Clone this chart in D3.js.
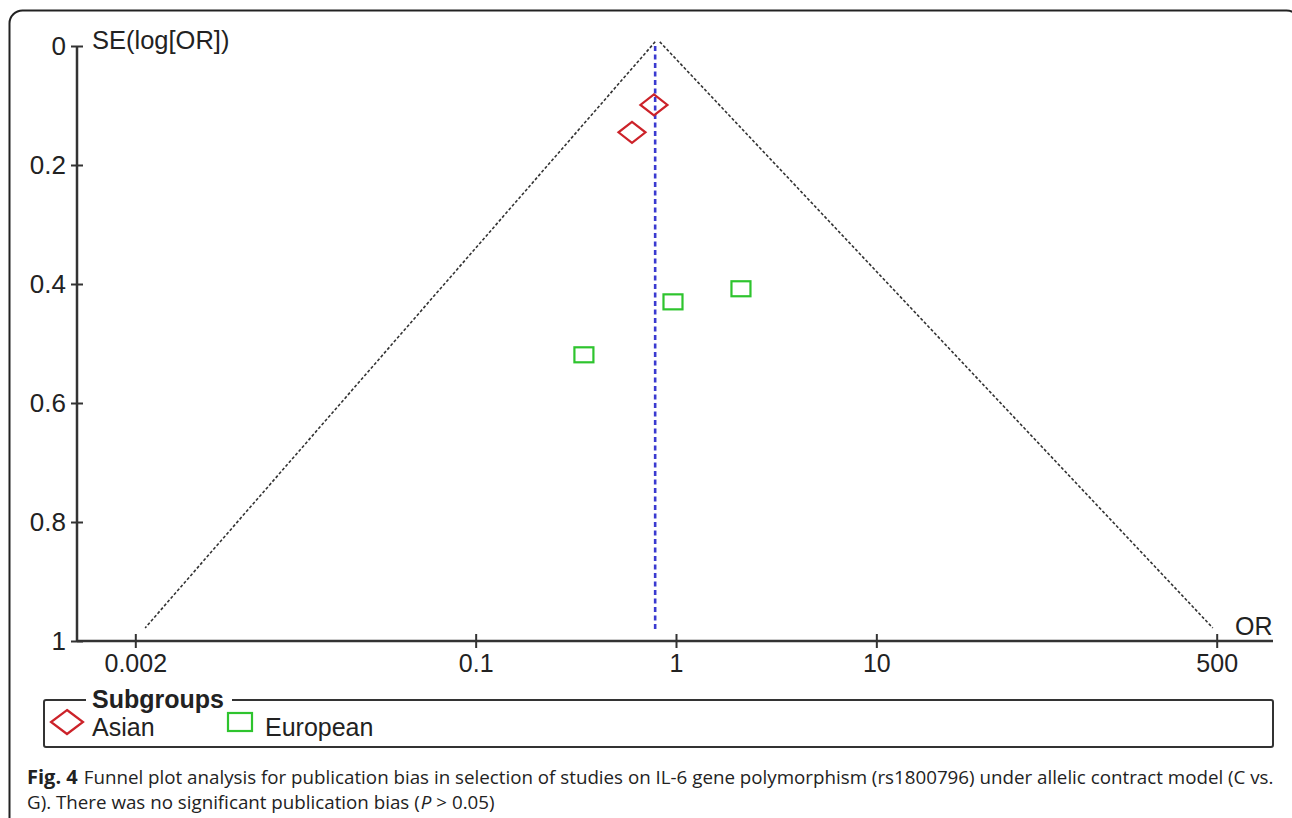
<html>
  <head>
    <title>Funnel plot</title>
    <style>
      body { margin: 0; background: #fff; }
      text { font-family: "Liberation Sans", Arial, sans-serif; fill: #222; }
    </style>
  </head>
  <body>
    <script type="text/javascript" src="https://d3js.org/d3.v7.min.js"></script>
    <script type="text/javascript">
// data
var asianOR = [0.776, 0.603];
var asianSE = [0.099, 0.145];
var europeanOR = [0.966, 2.11, 0.347];
var europeanSE = [0.430, 0.408, 0.519];
var pooledOR = 0.787;
var funnelLeftOR = [0.787, 0.00224];
var funnelRightOR = [0.83, 478];
var funnelSE = [-0.007, 0.978];
var xTicks = [0.002, 0.1, 1, 10, 500];
var yTicks = [0, 0.2, 0.4, 0.6, 0.8, 1];
var groups = ["Asian", "European"];

var w = 1292;
var h = 818;
var svg = d3.select("body")
            .append("svg")
            .attr("width", w)
            .attr("height", h);

// outer frame of the figure
svg.append("rect")
   .attr("x", 9.5).attr("y", 10.5)
   .attr("width", 1290).attr("height", 860)
   .attr("rx", 13)
   .attr("fill", "none")
   .attr("stroke", "#222")
   .attr("stroke-width", 2);

var scaleX = d3.scaleLog()
               .domain([0.001, 1000])
               .range([75, 1277]);
var scaleY = d3.scaleLinear()
               .domain([0, 1])
               .range([46, 641]);

// funnel
var funnel = [
  [[funnelLeftOR[0], funnelSE[0]], [funnelLeftOR[1], funnelSE[1]]],
  [[funnelRightOR[0], funnelSE[0]], [funnelRightOR[1], funnelSE[1]]]
];
var line = d3.line()
             .x(function(d){ return scaleX(d[0]); })
             .y(function(d){ return scaleY(d[1]); });
svg.selectAll(".funnel")
   .data(funnel)
   .enter()
   .append("path")
   .attr("class", "funnel")
   .attr("d", line)
   .attr("fill", "none")
   .attr("stroke", "#333")
   .attr("stroke-width", 1.6)
   .attr("stroke-dasharray", "3,2");

// pooled estimate
svg.append("line")
   .attr("x1", scaleX(pooledOR)).attr("x2", scaleX(pooledOR))
   .attr("y1", scaleY(0)).attr("y2", scaleY(0.985))
   .attr("stroke", "#3a3ad0")
   .attr("stroke-width", 2.6)
   .attr("stroke-dasharray", "5,3.5");

// axes
var xAxis = d3.axisBottom(scaleX)
              .tickValues(xTicks)
              .tickFormat(function(d){ return String(d); })
              .tickSize(7);
var gx = svg.append("g")
   .attr("transform", "translate(0," + scaleY(1) + ")")
   .call(xAxis);
gx.select(".domain").remove();
gx.append("line")
  .attr("x1", 77).attr("x2", 1273)
  .attr("stroke", "#333").attr("stroke-width", 2.5);
gx.selectAll(".tick line")
  .attr("y1", -7)
  .attr("stroke", "#333").attr("stroke-width", 2);
gx.selectAll(".tick text")
  .attr("y", 31).attr("dy", 0)
  .style("font-size", "25px")
  .style("font-family", "Liberation Sans, Arial, sans-serif")
  .attr("fill", "#222");

var yAxis = d3.axisLeft(scaleY)
              .tickValues(yTicks)
              .tickFormat(function(d){ return String(d); })
              .tickSize(6);
var gy = svg.append("g")
   .attr("transform", "translate(77,0)")
   .call(yAxis);
gy.select(".domain").remove();
gy.append("line")
  .attr("y1", scaleY(0)).attr("y2", scaleY(1))
  .attr("stroke", "#333").attr("stroke-width", 2.5);
gy.selectAll(".tick line")
  .attr("x2", 6).attr("x1", -6)
  .attr("stroke", "#333").attr("stroke-width", 2);
gy.selectAll(".tick text")
  .attr("x", -11)
  .style("font-size", "26px")
  .style("font-family", "Liberation Sans, Arial, sans-serif")
  .attr("fill", "#222");

svg.append("text")
   .attr("x", 92).attr("y", 49)
   .style("font-size", "25.5px")
   .text("SE(log[OR])");
svg.append("text")
   .attr("x", 1235).attr("y", 635)
   .style("font-size", "25px")
   .text("OR");

// study markers
function diamond(rx, ry) {
  return "M0," + (-ry) + "L" + rx + ",0L0," + ry + "L" + (-rx) + ",0Z";
}
var asian = asianOR.map(function(d, i){ return {or: d, se: asianSE[i]}; });
var european = europeanOR.map(function(d, i){ return {or: d, se: europeanSE[i]}; });

svg.selectAll(".asian")
   .data(asian)
   .enter()
   .append("path")
   .attr("class", "asian")
   .attr("d", diamond(13.5, 10.5))
   .attr("transform", function(d){ return "translate(" + scaleX(d.or) + "," + scaleY(d.se) + ")"; })
   .attr("fill", "none")
   .attr("stroke", "#cc2229")
   .attr("stroke-width", 2.2);

svg.selectAll(".european")
   .data(european)
   .enter()
   .append("rect")
   .attr("class", "european")
   .attr("x", function(d){ return scaleX(d.or) - 9.5; })
   .attr("y", function(d){ return scaleY(d.se) - 7.5; })
   .attr("width", 19).attr("height", 15)
   .attr("fill", "none")
   .attr("stroke", "#2ec42e")
   .attr("stroke-width", 2.2);

// legend
var lg = svg.append("g");
lg.append("rect")
  .attr("x", 44).attr("y", 700)
  .attr("width", 1229).attr("height", 47)
  .attr("rx", 2)
  .attr("fill", "none")
  .attr("stroke", "#333")
  .attr("stroke-width", 2);
lg.append("rect")
  .attr("x", 86).attr("y", 690)
  .attr("width", 146).attr("height", 20)
  .attr("fill", "#fff");
lg.append("text")
  .attr("x", 92).attr("y", 708)
  .style("font-size", "25px")
  .style("font-weight", "bold")
  .text("Subgroups");
lg.append("path")
  .attr("d", diamond(16, 12))
  .attr("transform", "translate(67,722)")
  .attr("fill", "none")
  .attr("stroke", "#cc2229")
  .attr("stroke-width", 2.2);
lg.append("rect")
  .attr("x", 228).attr("y", 713)
  .attr("width", 24).attr("height", 18)
  .attr("fill", "none")
  .attr("stroke", "#2ec42e")
  .attr("stroke-width", 2.2);
lg.append("text")
  .attr("x", 92).attr("y", 736)
  .style("font-size", "25px")
  .text(groups[0]);
lg.append("text")
  .attr("x", 265).attr("y", 736)
  .style("font-size", "25px")
  .text(groups[1]);

// caption: pieces laid out one after another, sized to fit the line
var capFont = "'Liberation Sans Narrow', 'Open Sans', sans-serif";
var figLabel = svg.append("text")
   .attr("x", 27).attr("y", 784)
   .style("font-family", "'Open Sans', sans-serif")
   .style("font-size", "20px")
   .style("font-weight", "bold")
   .attr("fill", "#111")
   .text("Fig. 4");
var restX = 27 + figLabel.node().getComputedTextLength() + 6;
var cap1 = svg.append("text")
   .attr("x", restX).attr("y", 784)
   .style("font-family", capFont)
   .style("font-size", "20px")
   .attr("fill", "#333")
   .text("Funnel plot analysis for publication bias in selection of studies on IL-6 gene polymorphism (rs1800796) under allelic contract model (C vs.");
var capSize = Math.min(21, 20 * (1274 - restX) / cap1.node().getComputedTextLength());
cap1.style("font-size", capSize + "px");

var cap2a = svg.append("text")
   .attr("x", 27).attr("y", 809)
   .style("font-family", capFont)
   .style("font-size", capSize + "px")
   .attr("fill", "#333")
   .text("G). There was no significant publication bias (");
var px = 27 + cap2a.node().getComputedTextLength() + 1;
var cap2b = svg.append("text")
   .attr("x", px).attr("y", 809)
   .style("font-family", capFont)
   .style("font-size", capSize + "px")
   .style("font-style", "italic")
   .attr("fill", "#333")
   .text("P");
var gtx = px + cap2b.node().getComputedTextLength() + 5;
svg.append("text")
   .attr("x", gtx).attr("y", 809)
   .style("font-family", capFont)
   .style("font-size", capSize + "px")
   .attr("fill", "#333")
   .text("> 0.05)");
    </script>
  </body>
</html>
